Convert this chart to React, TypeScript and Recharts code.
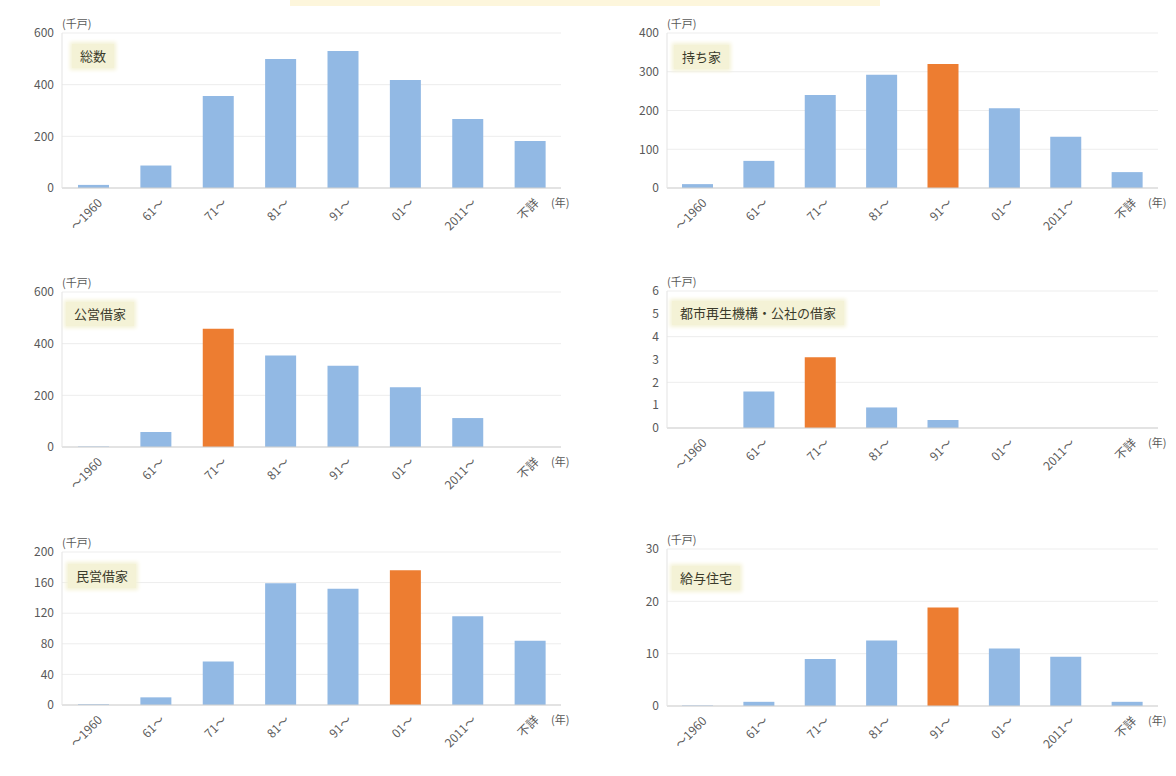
import { BarChart, Bar, XAxis, YAxis, CartesianGrid, Cell } from "recharts";

const categories = ["～1960", "61～", "71～", "81～", "91～", "01～", "2011～", "不詳"];

const totalValues = [12, 87, 356, 499, 530, 418, 267, 182];
const ownerValues = [10, 70, 240, 292, 320, 206, 132, 41];
const publicValues = [2, 58, 458, 354, 315, 231, 112, 0];
const urValues = [0, 1.6, 3.1, 0.9, 0.35, 0, 0, 0];
const privateValues = [1, 10, 57, 159, 152, 176, 116, 84];
const companyValues = [0.1, 0.8, 9.0, 12.5, 18.8, 11.0, 9.4, 0.8];

const totalTicks = [0, 200, 400, 600];
const ownerTicks = [0, 100, 200, 300, 400];
const publicTicks = [0, 200, 400, 600];
const urTicks = [0, 1, 2, 3, 4, 5, 6];
const privateTicks = [0, 40, 80, 120, 160, 200];
const companyTicks = [0, 10, 20, 30];

const unitLabel = "(千戸)";
const yearLabel = "(年)";

const FONT = '"Noto Sans CJK JP", "Noto Sans", sans-serif';
const BLUE = "#92b9e4";
const ORANGE = "#ed7d31";
const TEXT = "#595959";

type Box = { left: number; right: number; top: number; bottom: number };

const AngleTick = ({ x, y, payload }: any) => (
    <g transform={`translate(${x + 7},${y + 5})`}>
        <text transform="rotate(-45)" textAnchor="end" dy={4} fontSize={12} fill={TEXT} fontFamily={FONT}>
            {payload.value}
        </text>
    </g>
);

function Panel({
    values,
    ticks,
    highlight,
    title,
    plot,
    cell,
    titleBox,
}: {
    values: number[];
    ticks: number[];
    highlight: number;
    title: string;
    plot: Box;
    cell: Box;
    titleBox: { x: number; y: number };
}) {
    const data = categories.map((c, i) => ({ name: c, value: values[i] }));
    const yWidth = 50;
    const xHeight = 60;
    const width = cell.right - cell.left;
    const height = cell.bottom - cell.top;
    // place the plot area where the reference has it
    const margin = {
        left: plot.left - cell.left - yWidth,
        right: cell.right - plot.right,
        top: plot.top - cell.top,
        bottom: cell.bottom - plot.bottom - xHeight,
    };
    return (
        <>
            <div style={{ position: "absolute", left: cell.left, top: cell.top }}>
                <BarChart width={width} height={height} data={data} margin={margin} barSize={31}>
                    <CartesianGrid vertical={false} stroke="#ededed" />
                    <XAxis
                        dataKey="name"
                        interval={0}
                        height={xHeight}
                        tick={<AngleTick />}
                        tickLine={false}
                        axisLine={{ stroke: "#d0d0d0" }}
                    />
                    <YAxis
                        width={yWidth}
                        ticks={ticks}
                        domain={[ticks[0], ticks[ticks.length - 1]]}
                        tick={{ fontSize: 12, fill: TEXT, fontFamily: FONT }}
                        tickLine={false}
                        axisLine={{ stroke: "#e3e3e3" }}
                    />
                    <Bar dataKey="value" fill={BLUE} isAnimationActive={false}>
                        {data.map((d, i) => (
                            <Cell key={`c-${i}`} fill={i === highlight ? ORANGE : BLUE} />
                        ))}
                    </Bar>
                </BarChart>
            </div>
            <div
                style={{
                    position: "absolute",
                    left: plot.left,
                    top: plot.top - 18,
                    fontSize: 11,
                    color: TEXT,
                    fontFamily: FONT,
                }}
            >
                {unitLabel}
            </div>
            <div
                style={{
                    position: "absolute",
                    left: plot.right - 10,
                    top: plot.bottom + 6,
                    fontSize: 11,
                    color: TEXT,
                    fontFamily: FONT,
                }}
            >
                {yearLabel}
            </div>
            <div
                style={{
                    position: "absolute",
                    left: titleBox.x,
                    top: titleBox.y,
                    padding: "3px 8px",
                    background: "#f4f2d6",
                    boxShadow: "0 0 4px 2px #f4f2d6",
                    fontSize: 13,
                    color: "#3a3a2a",
                    fontFamily: FONT,
                    lineHeight: "18px",
                }}
            >
                {title}
            </div>
        </>
    );
}

export default function App() {
    return (
        <div
            style={{
                position: "absolute",
                left: 0,
                top: 0,
                width: 1176,
                height: 776,
                background: "#fff",
                overflow: "hidden",
            }}
        >
            <div style={{ position: "absolute", left: 290, top: 0, width: 590, height: 6, background: "#fdf6dc" }} />
            <Panel
                values={totalValues}
                ticks={totalTicks}
                highlight={-1}
                title="総数"
                cell={{ left: 0, right: 588, top: 0, bottom: 258 }}
                plot={{ left: 62, right: 561, top: 33, bottom: 188 }}
                titleBox={{ x: 72, y: 44 }}
            />
            <Panel
                values={ownerValues}
                ticks={ownerTicks}
                highlight={4}
                title="持ち家"
                cell={{ left: 588, right: 1176, top: 0, bottom: 258 }}
                plot={{ left: 667, right: 1158, top: 33, bottom: 188 }}
                titleBox={{ x: 674, y: 45 }}
            />
            <Panel
                values={publicValues}
                ticks={publicTicks}
                highlight={2}
                title="公営借家"
                cell={{ left: 0, right: 588, top: 258, bottom: 515 }}
                plot={{ left: 62, right: 561, top: 292, bottom: 447 }}
                titleBox={{ x: 66, y: 302 }}
            />
            <Panel
                values={urValues}
                ticks={urTicks}
                highlight={2}
                title="都市再生機構・公社の借家"
                cell={{ left: 588, right: 1176, top: 258, bottom: 515 }}
                plot={{ left: 667, right: 1158, top: 291, bottom: 428 }}
                titleBox={{ x: 672, y: 301 }}
            />
            <Panel
                values={privateValues}
                ticks={privateTicks}
                highlight={5}
                title="民営借家"
                cell={{ left: 0, right: 588, top: 515, bottom: 776 }}
                plot={{ left: 62, right: 561, top: 552, bottom: 705 }}
                titleBox={{ x: 68, y: 564 }}
            />
            <Panel
                values={companyValues}
                ticks={companyTicks}
                highlight={4}
                title="給与住宅"
                cell={{ left: 588, right: 1176, top: 515, bottom: 776 }}
                plot={{ left: 667, right: 1158, top: 549, bottom: 706 }}
                titleBox={{ x: 672, y: 566 }}
            />
        </div>
    );
}
